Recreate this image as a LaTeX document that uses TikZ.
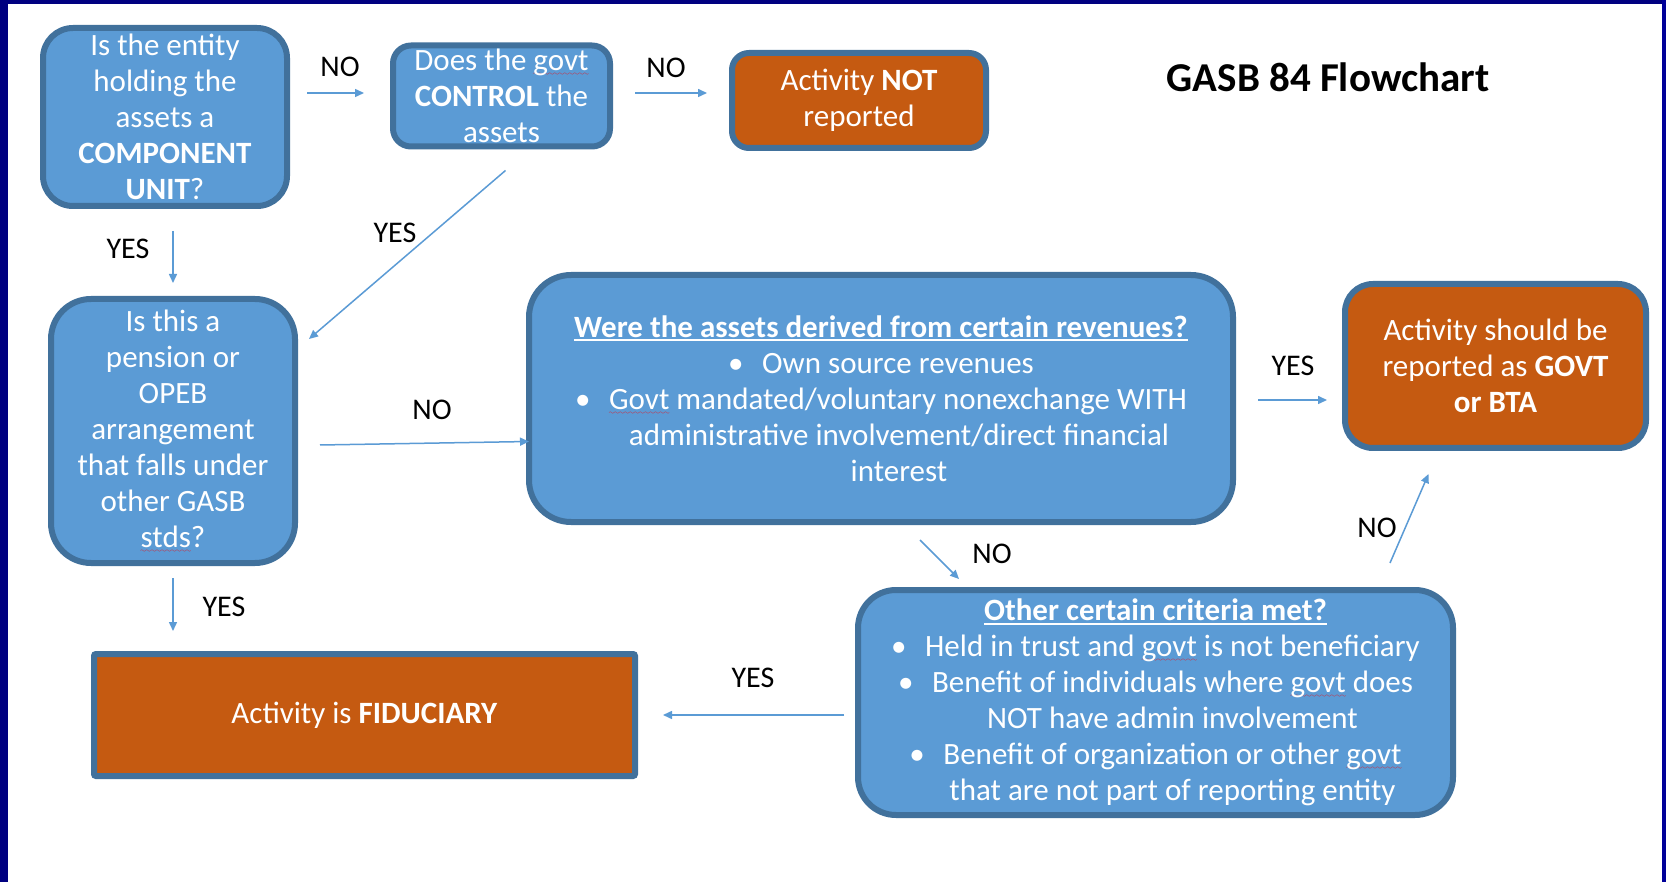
\documentclass[tikz,border=0pt]{standalone}
\usepackage{fontspec}
\setmainfont{Carlito}
\usetikzlibrary{arrows.meta,calc}
\definecolor{boxfill}{HTML}{5B9BD5}
\definecolor{boxline}{HTML}{41719C}
\definecolor{orangefill}{HTML}{C55A11}
\definecolor{frameblue}{HTML}{000080}
\definecolor{frameright}{HTML}{000099}
\font\wavefont=lasy6
\newcommand{\ulh}[1]{\setbox0\hbox{#1}\rlap{\rule[-4pt]{\wd0}{1.8pt}}\box0\relax}
\newcommand{\spell}[1]{\setbox0\hbox{#1}\rlap{\hbox to \wd0{\color{red}\xleaders\hbox{\lower5pt\hbox{\wavefont\char58}}\hfil}}\box0\relax}
\newcommand{\bul}{\makebox[34pt][l]{•}}
\tikzset{
  qbox/.style={draw=boxline, fill=boxfill, line width=6pt, text=white, align=center,
    font=\fontsize{31}{36}\selectfont, inner sep=1pt},
  obox/.style={qbox, fill=orangefill},
  arr/.style={draw=boxfill, line width=1.5pt, -{Triangle[length=9pt,width=8pt]}},
  lbl/.style={font=\fontsize{30}{34}\selectfont, text=black, inner sep=0pt},
}
\begin{document}
\begin{tikzpicture}[x=1pt,y=-1pt]
\useasboundingbox (0,0) rectangle (1666,882);
\fill[white] (0,0) rectangle (1666,882);
\fill[frameblue] (0,0) rectangle (8,882);
\fill[frameblue] (0,0) rectangle (1666,4);
\fill[frameright] (1662,0) rectangle (1666,882);

% boxes
\node[qbox, rounded corners=30pt, minimum width=244pt, minimum height=178pt] (b1) at (165,117)
  {Is the entity\\holding the\\assets a\\\textbf{COMPONENT}\\\textbf{UNIT}?};
\node[qbox, rounded corners=18pt, minimum width=217pt, minimum height=101pt] (b2) at (501.5,96)
  {Does the \spell{govt}\\\textbf{CONTROL} the\\assets};
\node[obox, rounded corners=17pt, minimum width=254pt, minimum height=95pt] (b3) at (859,100.5)
  {Activity \textbf{NOT}\\reported};
\node[qbox, rounded corners=40pt, minimum width=244pt, minimum height=264pt] (b4) at (173,431)
  {Is this a\\pension or\\OPEB\\arrangement\\that falls under\\other GASB\\\spell{stds}?};
\node[qbox, rounded corners=42pt, minimum width=704pt, minimum height=247pt] (b5) at (881,398.5)
  {\ulh{\textbf{Were the assets derived from certain revenues?}}\\
   \bul Own source revenues\\
   \bul\spell{Govt} mandated/voluntary nonexchange WITH\\
   \hspace*{36pt}administrative involvement/direct financial\\
   \hspace*{36pt}interest};
\node[obox, rounded corners=28pt, minimum width=301pt, minimum height=164pt] (b6) at (1495.5,366)
  {Activity should be\\reported as \textbf{GOVT}\\\textbf{or BTA}};
\node[obox, rounded corners=2pt, minimum width=541pt, minimum height=122pt] (b7) at (364.5,715)
  {Activity is \textbf{FIDUCIARY}};
\node[qbox, rounded corners=38pt, minimum width=595pt, minimum height=225pt] (b8) at (1155.5,702.5)
  {\ulh{\textbf{Other certain criteria met?}}\\
   \bul Held in trust and \spell{govt} is not beneficiary\\
   \bul Benefit of individuals where \spell{govt} does\\
   \hspace*{34pt}NOT have admin involvement\\
   \bul Benefit of organization or other \spell{govt}\\
   \hspace*{34pt}that are not part of reporting entity};

% title
\node[font=\fontsize{41}{48}\selectfont\bfseries, inner sep=0pt] (title) at (1328,77) {GASB 84 Flowchart};

% connectors
\draw[arr, shorten <=17pt, shorten >=26pt] ([yshift=3pt]b1.east |- b2.west) -- ([yshift=3pt]b2.west);
\draw[arr, shorten <=22pt, shorten >=22pt] ([yshift=3pt]b2.east) -- ([yshift=3pt]b3.west |- b2.east);
\draw[arr, shorten <=22pt, shorten >=13pt] (b1.south -| b4.north) -- (b4.north);
\draw[arr] ([shift={(4,21)}]b2.south) -- ([shift={(11,43)}]b4.north east);
\draw[arr] ([shift={(22,14)}]b4.east) -- ([shift={(3,43)}]b5.west);
\draw[arr, shorten <=22pt, shorten >=15pt] ([yshift=-1.5pt]b5.east) -- ([yshift=-1.5pt]b6.west |- b5.east);
\draw[arr] ([shift={(39,15)}]b5.south) -- ([shift={(-196.5,-8)}]b8.north);
\draw[arr] ([shift={(-66,-24)}]b8.north east) -- ([shift={(-67,23)}]b6.south);
\draw[arr, shorten <=12pt, shorten >=20pt] (b4.south) -- (b4.south |- b7.north);
\draw[arr, shorten <=11pt, shorten >=25pt] (b8.west |- b7.east) -- (b7.east);

% labels
\node[lbl] (l1) at (340,67) {NO};
\node[lbl] (l2) at (666,68) {NO};
\node[lbl] (l3) at (128,249) {YES};
\node[lbl] (l4) at (395,233) {YES};
\node[lbl] (l5) at (432,410) {NO};
\node[lbl] (l6) at (1293,366) {YES};
\node[lbl] (l7) at (992,554) {NO};
\node[lbl] (l8) at (1377,528) {NO};
\node[lbl] (l9) at (224,607) {YES};
\node[lbl] (l10) at (753,678) {YES};
\end{tikzpicture}
\end{document}
